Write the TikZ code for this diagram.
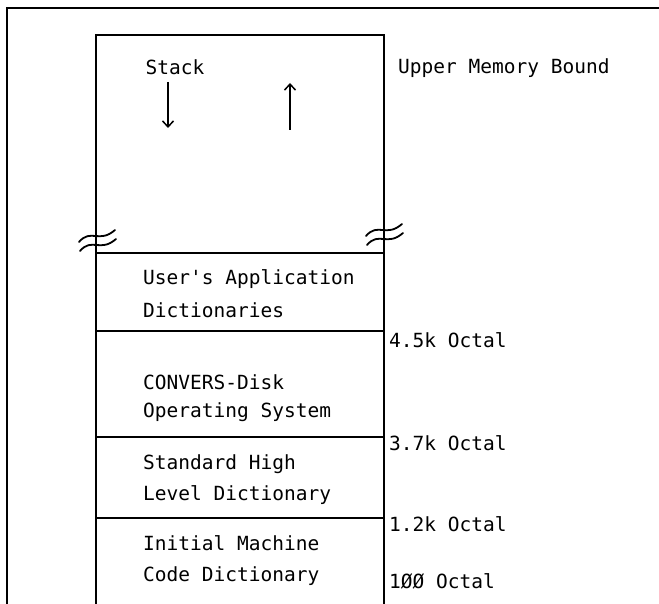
\documentclass[tikz,border=0pt]{standalone}
\usepackage{fontspec}
\setmonofont{DejaVu Sans Mono}
\usetikzlibrary{arrows.meta}
\tikzset{
  txt/.style={anchor=west,inner sep=0pt,font=\ttfamily\fontsize{19.5}{21}\selectfont},
  rule/.style={line width=1.5pt},
  brk/.style={line width=1.8pt,line cap=round},
}
\begin{document}
\begin{tikzpicture}[x=1pt,y=-1pt]
  \useasboundingbox (0,0) rectangle (659,604);
  % outer frame, open at right and bottom
  \draw[rule] (7,604) -- (7,8) -- (659,8);
  % memory column
  \coordinate (TL) at (96,35);
  \coordinate (TR) at (384,35);
  \coordinate (BL) at (96,604);
  \coordinate (BR) at (384,604);
  \draw[rule] (BL) -- (TL) -- (TR) -- (BR);
  \foreach \y in {253,331,437,518}
    \draw[rule] (96,\y) -- (384,\y);
  % break marks
  \foreach \cx/\cy in {97/236,98/245,384/230,385/239}
    \draw[brk] (\cx-18,\cy+6) .. controls (\cx-6,\cy-8) and (\cx+2,\cy+8) .. (\cx+18,\cy-6);
  % stack region
  \node[txt,anchor=center] (stack) at (175,67) {Stack};
  \coordinate (dn0) at (168,82);
  \coordinate (dn1) at (168,128);
  \coordinate (up0) at (290,130);
  \coordinate (up1) at (290,83);
  \draw[line width=1.5pt,-{Straight Barb[length=6pt,width=11pt]}] (dn0) -- (dn1);
  \draw[line width=1.5pt,-{Straight Barb[length=6pt,width=11pt]}] (up0) -- (up1);
  % dictionaries
  \node[txt] (user1) at (143,279) {User's Application};
  \node[txt] (user2) at (143,310) {Dictionaries};
  \node[txt] (conv1) at (143,382) {CONVERS-Disk};
  \node[txt] (conv2) at (143,412) {Operating System};
  \node[txt] (std1)  at (143,464) {Standard High};
  \node[txt] (std2)  at (143,495) {Level Dictionary};
  \node[txt] (init1) at (143,543) {Initial Machine};
  \node[txt] (init2) at (143,576) {Code Dictionary};
  % addresses
  \node[txt] (upper) at (398,68)  {Upper Memory Bound};
  \node[txt] (a45)   at (389,340) {4.5k Octal};
  \node[txt] (a37)   at (389,443) {3.7k Octal};
  \node[txt] (a12)   at (389,524) {1.2k Octal};
  \node[txt] (a100)  at (389,581) {1ØØ Octal};
\end{tikzpicture}
\end{document}
